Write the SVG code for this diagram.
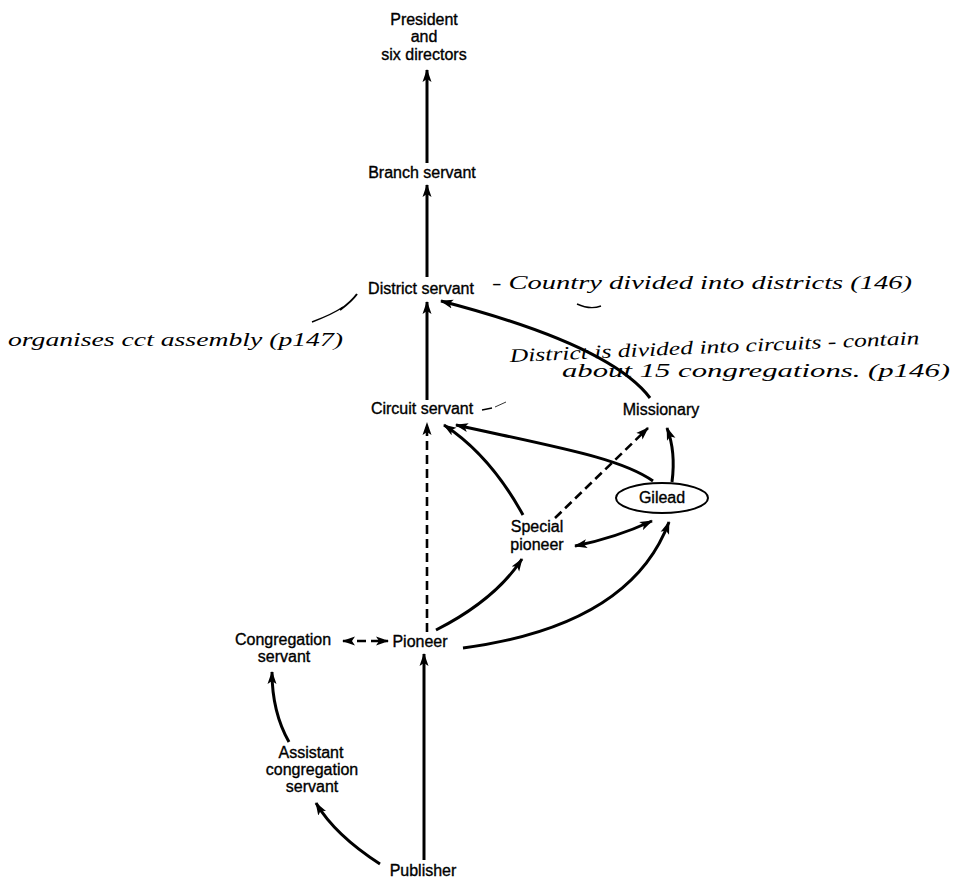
<svg xmlns="http://www.w3.org/2000/svg" width="953" height="882" viewBox="0 0 953 882">
<defs>
<marker id="ah" markerUnits="userSpaceOnUse" markerWidth="14" markerHeight="10" refX="12" refY="5" orient="auto-start-reverse">
<path d="M0,0.5 L13,5 L0,9.5 L3,5 Z" fill="#000"/>
</marker>
</defs>
<style>
.lbl{font-family:"Liberation Sans",Arial,sans-serif;font-size:16px;fill:#000;stroke:#000;stroke-width:0.35;text-anchor:middle}
.hand{font-family:"Liberation Serif","DejaVu Serif",serif;font-style:italic;font-size:19px;fill:#000}
.c{fill:none;stroke:#000;stroke-width:3}
.cd{fill:none;stroke:#000;stroke-width:2.6;stroke-dasharray:9 5}
.thin{fill:none;stroke:#000;stroke-width:1.4}
</style>
<rect width="953" height="882" fill="#fff"/>
<g id="connectors">
<path class="c" d="M427,163 L427,70" marker-end="url(#ah)"/>
<path class="c" d="M427,277 L427,185" marker-end="url(#ah)"/>
<path class="c" d="M427,400 L427,302" marker-end="url(#ah)"/>
<path class="cd" d="M427,632 L427,423" marker-end="url(#ah)"/>
<path class="c" d="M424,860 L424,654" marker-end="url(#ah)"/>
<path class="c" d="M380,864 Q335,835 316,803" marker-end="url(#ah)"/>
<path class="c" d="M289,742 Q272,712 272,672" marker-end="url(#ah)"/>
<path class="cd" d="M343,641 L388,641" marker-start="url(#ah)" marker-end="url(#ah)"/>
<path class="c" d="M436,630 Q495,600 522,559" marker-end="url(#ah)"/>
<path class="c" d="M463,648 C560,635 640,600 669,522" marker-end="url(#ah)"/>
<path class="c" d="M575,546 Q615,538 652,521" marker-start="url(#ah)" marker-end="url(#ah)"/>
<path class="c" d="M672,482 Q676,452 667,428" marker-end="url(#ah)"/>
<path class="cd" d="M555,518 L648,428" marker-end="url(#ah)"/>
<path class="c" d="M653,481 C620,458 560,448 456,425" marker-end="url(#ah)"/>
<path class="c" d="M523,515 Q490,455 444,425" marker-end="url(#ah)"/>
<path class="c" d="M650,398 Q610,345 441,301" marker-end="url(#ah)"/>
</g>
<g id="president"><text class="lbl" x="424" y="25">President</text><text class="lbl" x="424" y="42">and</text><text class="lbl" x="424" y="60">six directors</text></g>
<g id="branch-servant"><text class="lbl" x="422" y="178">Branch servant</text></g>
<g id="district-servant"><text class="lbl" x="421" y="294">District servant</text></g>
<g id="circuit-servant"><text class="lbl" x="422" y="414">Circuit servant</text></g>
<g id="missionary"><text class="lbl" x="661" y="415">Missionary</text></g>
<g id="gilead"><ellipse cx="662" cy="498" rx="46" ry="15" fill="#fff" stroke="#000" stroke-width="2"/><text class="lbl" x="662" y="503">Gilead</text></g>
<g id="special-pioneer"><text class="lbl" x="537" y="532">Special</text><text class="lbl" x="537" y="550">pioneer</text></g>
<g id="pioneer"><text class="lbl" x="420" y="647">Pioneer</text></g>
<g id="congregation-servant"><text class="lbl" x="283" y="645">Congregation</text><text class="lbl" x="284" y="662">servant</text></g>
<g id="assistant"><text class="lbl" x="311" y="758">Assistant</text><text class="lbl" x="312" y="775">congregation</text><text class="lbl" x="312" y="792">servant</text></g>
<g id="publisher"><text class="lbl" x="423" y="876">Publisher</text></g>
<g id="annotations">
<text class="hand" x="492" y="289" textLength="420" lengthAdjust="spacingAndGlyphs">- Country divided into districts (146)</text>
<path class="thin" d="M577,304 Q590,310 601,306"/>
<text class="hand" x="8" y="346" textLength="335" lengthAdjust="spacingAndGlyphs">organises cct assembly (p147)</text>
<path class="thin" d="M312,322 Q333,314 343,307"/>
<path class="c" style="stroke-width:2" d="M340,310 Q352,301 357,294"/>
<text class="hand" x="510" y="362" textLength="410" lengthAdjust="spacingAndGlyphs" transform="rotate(-2.5 510 362)">District is divided into circuits - contain</text>
<text class="hand" x="562" y="377" textLength="388" lengthAdjust="spacingAndGlyphs">about 15 congregations. (p146)</text>
<path class="thin" d="M482,410 L492,408"/>
<path class="thin" style="stroke-width:0.8" d="M495,407 L506,402"/>
</g>
</svg>
